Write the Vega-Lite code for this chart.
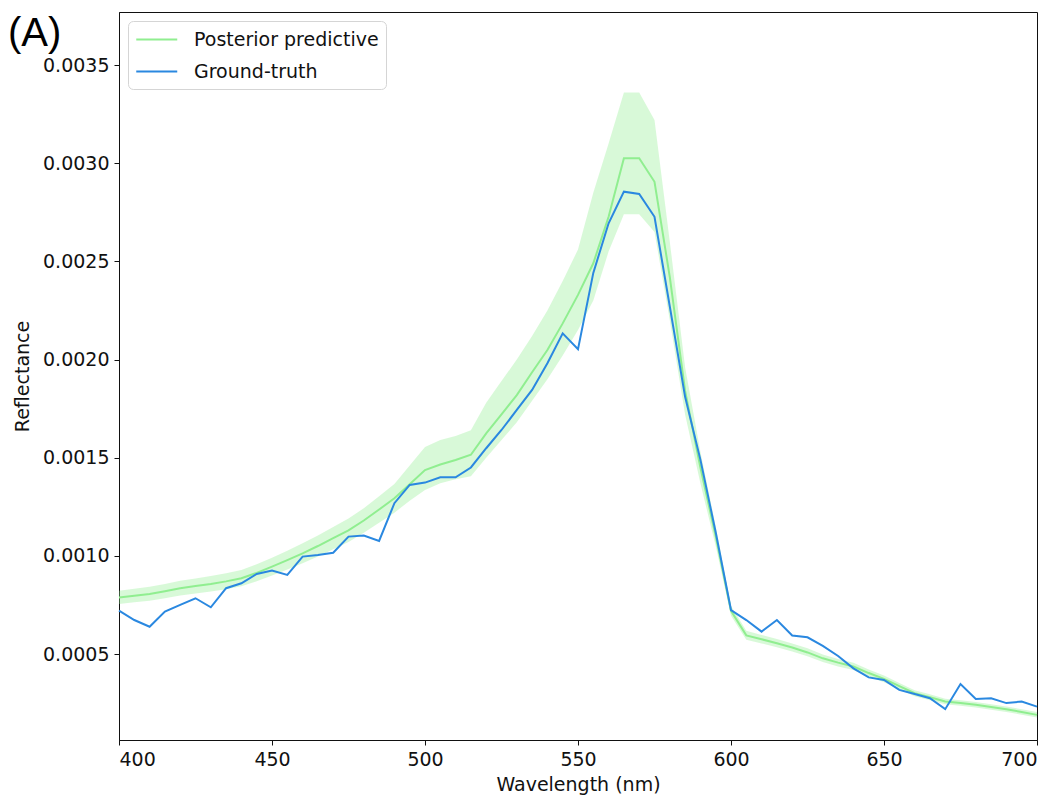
{
  "$schema": "https://vega.github.io/schema/vega-lite/v6.json",
  "autosize": "none",
  "width": 918,
  "height": 728,
  "padding": {"left": 119, "top": 12, "right": 21, "bottom": 63},
  "background": "white",
  "title": {"text": "(A)", "anchor": "start", "frame": "group", "offset": 0, "dx": -111, "dy": 74, "baseline": "alphabetic", "font": "Liberation Sans", "fontSize": 40, "fontWeight": "normal", "color": "#000"},
  "config": {
    "title": {"fontWeight": "normal"},
    "view": {"stroke": "#111", "strokeWidth": 1},
    "axis": {"labelFont": "DejaVu Sans", "labelFontSize": 19, "titleFont": "DejaVu Sans", "titleFontSize": 19, "titleFontWeight": "normal", "labelColor": "#111", "titleColor": "#111", "tickColor": "#111", "domainColor": "#111", "tickSize": 5, "grid": false, "labelPadding": 5},
    "legend": {"orient": "top-left", "offset": 9, "fillColor": "rgba(255,255,255,0.8)", "strokeColor": "#d5d5d5", "cornerRadius": 5, "padding": 7, "symbolType": "M-1,0L3,0", "symbolSize": 420, "symbolStrokeWidth": 2, "labelFont": "DejaVu Sans", "labelFontSize": 19, "labelColor": "#111", "labelOffset": 36, "labelLimit": 0, "rowPadding": 10}
  },
  "data": {"values": [
    {"wl": 400, "gt": 0.000721, "mean": 0.000788, "lo": 0.000755, "hi": 0.000822},
    {"wl": 405, "gt": 0.000673, "mean": 0.000797, "lo": 0.000763, "hi": 0.000832},
    {"wl": 410, "gt": 0.000639, "mean": 0.000806, "lo": 0.000771, "hi": 0.000842},
    {"wl": 415, "gt": 0.000716, "mean": 0.00082, "lo": 0.000784, "hi": 0.000857},
    {"wl": 420, "gt": 0.00075, "mean": 0.000835, "lo": 0.000798, "hi": 0.000873},
    {"wl": 425, "gt": 0.000784, "mean": 0.000846, "lo": 0.000808, "hi": 0.000885},
    {"wl": 430, "gt": 0.000738, "mean": 0.000857, "lo": 0.000818, "hi": 0.000897},
    {"wl": 435, "gt": 0.000835, "mean": 0.00087, "lo": 0.00083, "hi": 0.000911},
    {"wl": 440, "gt": 0.00086, "mean": 0.000886, "lo": 0.000845, "hi": 0.000928},
    {"wl": 445, "gt": 0.000908, "mean": 0.000913, "lo": 0.00087, "hi": 0.000957},
    {"wl": 450, "gt": 0.000925, "mean": 0.000945, "lo": 0.0009, "hi": 0.00099},
    {"wl": 455, "gt": 0.000903, "mean": 0.000978, "lo": 0.00093, "hi": 0.001026},
    {"wl": 460, "gt": 0.000996, "mean": 0.001013, "lo": 0.000962, "hi": 0.001064},
    {"wl": 465, "gt": 0.001004, "mean": 0.00105, "lo": 0.000997, "hi": 0.001104},
    {"wl": 470, "gt": 0.001016, "mean": 0.00109, "lo": 0.001034, "hi": 0.001147},
    {"wl": 475, "gt": 0.001098, "mean": 0.00113, "lo": 0.001071, "hi": 0.00119},
    {"wl": 480, "gt": 0.001103, "mean": 0.00118, "lo": 0.001117, "hi": 0.001243},
    {"wl": 485, "gt": 0.001076, "mean": 0.001236, "lo": 0.001168, "hi": 0.001304},
    {"wl": 490, "gt": 0.001268, "mean": 0.001293, "lo": 0.00122, "hi": 0.001366},
    {"wl": 495, "gt": 0.001361, "mean": 0.001365, "lo": 0.00128, "hi": 0.00146},
    {"wl": 500, "gt": 0.001373, "mean": 0.001437, "lo": 0.001335, "hi": 0.001555},
    {"wl": 505, "gt": 0.0014, "mean": 0.001465, "lo": 0.00137, "hi": 0.00159},
    {"wl": 510, "gt": 0.0014, "mean": 0.001488, "lo": 0.00139, "hi": 0.00161},
    {"wl": 515, "gt": 0.00145, "mean": 0.001515, "lo": 0.001405, "hi": 0.00164},
    {"wl": 520, "gt": 0.001548, "mean": 0.001624, "lo": 0.0015, "hi": 0.00178},
    {"wl": 525, "gt": 0.001641, "mean": 0.00172, "lo": 0.00159, "hi": 0.00189},
    {"wl": 530, "gt": 0.001743, "mean": 0.001819, "lo": 0.00168, "hi": 0.002},
    {"wl": 535, "gt": 0.001845, "mean": 0.001935, "lo": 0.00179, "hi": 0.00212},
    {"wl": 540, "gt": 0.001981, "mean": 0.002048, "lo": 0.0019, "hi": 0.00225},
    {"wl": 545, "gt": 0.002133, "mean": 0.002184, "lo": 0.00202, "hi": 0.0024},
    {"wl": 550, "gt": 0.002052, "mean": 0.002329, "lo": 0.00215, "hi": 0.00256},
    {"wl": 555, "gt": 0.002441, "mean": 0.00249, "lo": 0.0023, "hi": 0.00285},
    {"wl": 560, "gt": 0.002694, "mean": 0.002727, "lo": 0.00255, "hi": 0.0031},
    {"wl": 565, "gt": 0.002855, "mean": 0.003025, "lo": 0.00274, "hi": 0.00336},
    {"wl": 570, "gt": 0.002843, "mean": 0.003025, "lo": 0.00274, "hi": 0.00336},
    {"wl": 575, "gt": 0.002727, "mean": 0.002905, "lo": 0.00265, "hi": 0.00322},
    {"wl": 580, "gt": 0.00227, "mean": 0.00242, "lo": 0.0022, "hi": 0.0026},
    {"wl": 585, "gt": 0.00181, "mean": 0.00184, "lo": 0.00172, "hi": 0.00196},
    {"wl": 590, "gt": 0.00149, "mean": 0.00145, "lo": 0.00137, "hi": 0.00153},
    {"wl": 595, "gt": 0.00112, "mean": 0.0011, "lo": 0.00105, "hi": 0.00115},
    {"wl": 600, "gt": 0.000724, "mean": 0.00072, "lo": 0.000695, "hi": 0.000745},
    {"wl": 605, "gt": 0.000673, "mean": 0.000595, "lo": 0.000573, "hi": 0.000618},
    {"wl": 610, "gt": 0.000614, "mean": 0.000575, "lo": 0.000554, "hi": 0.000597},
    {"wl": 615, "gt": 0.000673, "mean": 0.000555, "lo": 0.000535, "hi": 0.000576},
    {"wl": 620, "gt": 0.000594, "mean": 0.000533, "lo": 0.000513, "hi": 0.000554},
    {"wl": 625, "gt": 0.000585, "mean": 0.000508, "lo": 0.000488, "hi": 0.000529},
    {"wl": 630, "gt": 0.000541, "mean": 0.000478, "lo": 0.000459, "hi": 0.000498},
    {"wl": 635, "gt": 0.00049, "mean": 0.000456, "lo": 0.000437, "hi": 0.000475},
    {"wl": 640, "gt": 0.000427, "mean": 0.000436, "lo": 0.000418, "hi": 0.000455},
    {"wl": 645, "gt": 0.000381, "mean": 0.000403, "lo": 0.000386, "hi": 0.000421},
    {"wl": 650, "gt": 0.000368, "mean": 0.000373, "lo": 0.000356, "hi": 0.00039},
    {"wl": 655, "gt": 0.000317, "mean": 0.000336, "lo": 0.00032, "hi": 0.000352},
    {"wl": 660, "gt": 0.000296, "mean": 0.0003, "lo": 0.000285, "hi": 0.000316},
    {"wl": 665, "gt": 0.000275, "mean": 0.00028, "lo": 0.000265, "hi": 0.000295},
    {"wl": 670, "gt": 0.000219, "mean": 0.000258, "lo": 0.000244, "hi": 0.000272},
    {"wl": 675, "gt": 0.000347, "mean": 0.00025, "lo": 0.000236, "hi": 0.000264},
    {"wl": 680, "gt": 0.000271, "mean": 0.000241, "lo": 0.000227, "hi": 0.000255},
    {"wl": 685, "gt": 0.000275, "mean": 0.00023, "lo": 0.000216, "hi": 0.000244},
    {"wl": 690, "gt": 0.00025, "mean": 0.000219, "lo": 0.000205, "hi": 0.000233},
    {"wl": 695, "gt": 0.000258, "mean": 0.000205, "lo": 0.000191, "hi": 0.000219},
    {"wl": 700, "gt": 0.000232, "mean": 0.00019, "lo": 0.000176, "hi": 0.000204}
  ]},
  "encoding": {
    "x": {"field": "wl", "type": "quantitative", "scale": {"domain": [400, 700], "nice": false, "zero": false}, "axis": {"title": "Wavelength (nm)", "values": [400, 450, 500, 550, 600, 650, 700], "titlePadding": 6}}
  },
  "layer": [
    {
      "mark": {"type": "area", "color": "#90ee90", "opacity": 0.35},
      "encoding": {
        "y": {"field": "lo", "type": "quantitative", "scale": {"domain": [0.000062, 0.00377], "nice": false, "zero": false}, "axis": {"title": "Reflectance", "values": [0.0005, 0.001, 0.0015, 0.002, 0.0025, 0.003, 0.0035], "format": ".4f", "titlePadding": 10}},
        "y2": {"field": "hi"}
      }
    },
    {
      "mark": {"type": "line", "strokeWidth": 2},
      "encoding": {
        "y": {"field": "mean", "type": "quantitative"},
        "color": {"datum": "Posterior predictive", "type": "nominal", "scale": {"domain": ["Posterior predictive", "Ground-truth"], "range": ["#90ee90", "#2a88e0"]}, "legend": {"title": null}}
      }
    },
    {
      "mark": {"type": "line", "strokeWidth": 2},
      "encoding": {
        "y": {"field": "gt", "type": "quantitative"},
        "color": {"datum": "Ground-truth", "type": "nominal"}
      }
    }
  ]
}
